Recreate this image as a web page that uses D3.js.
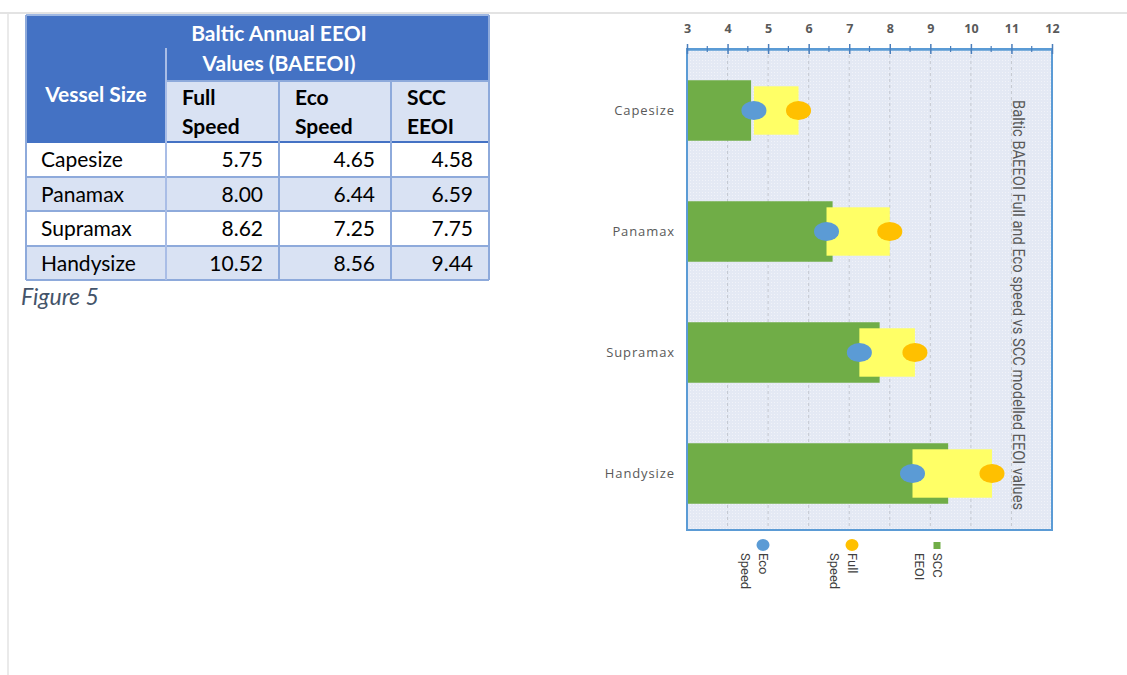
<!DOCTYPE html>
<html>
<head>
<meta charset="utf-8">
<style>
  body { margin: 0; background: #fff; }
  svg { display: block; }
</style>
</head>
<body>
<div id="viz_area"></div>

<script src="https://d3js.org/d3.v7.min.js"></script>

<script>
    var categories = ["Capesize", "Panamax", "Supramax", "Handysize"];
    var fullSpeed  = [5.75, 8.00, 8.62, 10.52];
    var ecoSpeed   = [4.65, 6.44, 7.25, 8.56];
    var sccEEOI    = [4.58, 6.59, 7.75, 9.44];
    var xTicks     = [3, 4, 5, 6, 7, 8, 9, 10, 11, 12];
    var legendItems = [["Eco", "Speed"], ["Full", "Speed"], ["SCC", "EEOI"]];

    var W = 1127, H = 675;
    var svg = d3.select("#viz_area").append("svg")
        .attr("width", W).attr("height", H);

    // page frame lines
    svg.append("line").attr("x1", 0).attr("x2", W).attr("y1", 13).attr("y2", 13)
        .attr("stroke", "#e3e3e3").attr("stroke-width", 2);
    svg.append("line").attr("x1", 8).attr("x2", 8).attr("y1", 13).attr("y2", H)
        .attr("stroke", "#e3e3e3").attr("stroke-width", 1.5);

    // ---------- table ----------
    var tfont = "Lato, 'Noto Sans', sans-serif";
    var colX = [26, 166, 279, 391, 489];      // column edges
    var rowY = [142, 177, 211, 246, 280];     // data row edges
    var blue = "#4472c4", lightBlue = "#d9e2f3", border = "#8eaadb";
    var table = svg.append("g");

    // header blocks
    table.append("rect").attr("x", colX[0]).attr("y", 15).attr("width", colX[4] - colX[0]).attr("height", 66)
        .attr("fill", blue);
    table.append("rect").attr("x", colX[0]).attr("y", 15).attr("width", colX[1] - colX[0]).attr("height", 127)
        .attr("fill", blue);
    for (var c = 1; c < 4; c++) {
        table.append("rect").attr("x", colX[c]).attr("y", 81).attr("width", colX[c + 1] - colX[c]).attr("height", 61)
            .attr("fill", lightBlue);
    }
    // data rows
    var rows = table.selectAll(".row").data(categories).join("g").attr("class", "row");
    rows.append("rect")
        .attr("x", colX[0]).attr("y", (d, i) => rowY[i])
        .attr("width", colX[4] - colX[0]).attr("height", (d, i) => rowY[i + 1] - rowY[i])
        .attr("fill", (d, i) => i % 2 ? lightBlue : "#fff");
    rows.append("text")
        .attr("x", colX[0] + 15).attr("y", (d, i) => (rowY[i] + rowY[i + 1]) / 2 + 7.5)
        .attr("font-family", tfont).attr("font-size", 21).attr("fill", "#000")
        .text(d => d);
    var valueCols = [fullSpeed, ecoSpeed, sccEEOI];
    valueCols.forEach(function (vals, c) {
        rows.append("text")
            .attr("x", colX[c + 2] - 16).attr("y", (d, i) => (rowY[i] + rowY[i + 1]) / 2 + 7.5)
            .attr("text-anchor", "end")
            .attr("font-family", tfont).attr("font-size", 21).attr("fill", "#000")
            .text((d, i) => vals[i].toFixed(2));
    });

    // grid lines of table
    var gl = table.append("g").attr("stroke", border).attr("stroke-width", 2);
    gl.append("line").attr("x1", colX[0]).attr("x2", colX[4]).attr("y1", 15).attr("y2", 15).attr("stroke", "#9fb8e3");
    gl.append("line").attr("x1", colX[1]).attr("x2", colX[4]).attr("y1", 81).attr("y2", 81);
    rowY.forEach(function (y, i) {
        gl.append("line").attr("x1", colX[0]).attr("x2", colX[4]).attr("y1", y).attr("y2", y)
            .attr("stroke", i === 0 ? blue : border);
    });
    colX.forEach(function (x, i) {
        gl.append("line").attr("x1", x).attr("x2", x)
            .attr("y1", i === 0 || i === 4 ? 15 : (i === 1 ? 48 : 81)).attr("y2", 280)
            .attr("stroke", i === 1 ? "#a9bde6" : border);
    });

    // header texts
    var hdr = table.append("g").attr("font-family", tfont).attr("font-weight", "bold").attr("font-size", 21);
    hdr.append("text").attr("x", 96).attr("y", 102).attr("text-anchor", "middle").attr("fill", "#fff").text("Vessel Size");
    hdr.append("text").attr("x", 279).attr("y", 41).attr("text-anchor", "middle").attr("fill", "#fff").text("Baltic Annual EEOI");
    hdr.append("text").attr("x", 279).attr("y", 71).attr("text-anchor", "middle").attr("fill", "#fff").text("Values (BAEEOI)");
    var subHdr = [["Full", "Speed"], ["Eco", "Speed"], ["SCC", "EEOI"]];
    subHdr.forEach(function (lines, c) {
        lines.forEach(function (t, j) {
            hdr.append("text").attr("x", colX[c + 1] + 16).attr("y", 105 + j * 29).attr("fill", "#000").text(t);
        });
    });

    svg.append("text").attr("x", 21).attr("y", 305)
        .attr("font-family", tfont).attr("font-style", "italic").attr("font-size", 23)
        .attr("fill", "#44546a").text("Figure 5");

    // ---------- chart ----------
    var plotTop = 49, plotBottom = 530;
    var x = d3.scaleLinear().domain([3, 12]).range([687, 1052]);
    var y = d3.scaleBand().domain(categories).range([50, 534]).paddingInner(0.5).paddingOuter(0.25);

    var cfont = "'Open Sans', 'DejaVu Sans', sans-serif";
    var chart = svg.append("g");

    // dotted plot background
    var defs = svg.append("defs");
    var pat = defs.append("pattern").attr("id", "dots").attr("width", 3).attr("height", 3)
        .attr("patternUnits", "userSpaceOnUse");
    pat.append("rect").attr("width", 3).attr("height", 3).attr("fill", "#e4e9f4");
    pat.append("rect").attr("width", 1).attr("height", 1).attr("fill", "#f1f3f9");

    chart.append("rect").attr("x", x(3)).attr("y", plotTop)
        .attr("width", x(12) - x(3)).attr("height", plotBottom - plotTop)
        .attr("fill", "url(#dots)");

    // vertical gridlines
    chart.selectAll(".grid").data(xTicks.slice(1, -1)).join("line")
        .attr("x1", d => x(d)).attr("x2", d => x(d))
        .attr("y1", plotTop).attr("y2", plotBottom)
        .attr("stroke", "#c4c8d0").attr("stroke-width", 1).attr("stroke-dasharray", "3,3");

    // SCC bars
    chart.selectAll(".scc").data(categories).join("rect")
        .attr("x", x(3)).attr("y", d => y(d))
        .attr("width", (d, i) => x(sccEEOI[i]) - x(3)).attr("height", y.bandwidth())
        .attr("fill", "#70ad47");

    // eco -> full range bars
    chart.selectAll(".range").data(categories).join("rect")
        .attr("x", (d, i) => x(ecoSpeed[i])).attr("y", d => y(d) + y.bandwidth() * 0.1)
        .attr("width", (d, i) => x(fullSpeed[i]) - x(ecoSpeed[i])).attr("height", y.bandwidth() * 0.8)
        .attr("fill", "#ffff66");

    // markers
    chart.selectAll(".eco").data(categories).join("ellipse")
        .attr("cx", (d, i) => x(ecoSpeed[i])).attr("cy", d => y(d) + y.bandwidth() / 2)
        .attr("rx", 12.5).attr("ry", 9.5).attr("fill", "#5b9bd5");
    chart.selectAll(".full").data(categories).join("ellipse")
        .attr("cx", (d, i) => x(fullSpeed[i])).attr("cy", d => y(d) + y.bandwidth() / 2)
        .attr("rx", 12.5).attr("ry", 9.5).attr("fill", "#ffc000");

    // category labels
    chart.selectAll(".cat").data(categories).join("text")
        .attr("x", 675).attr("y", d => y(d) + y.bandwidth() / 2 + 4.5)
        .attr("text-anchor", "end").attr("font-family", cfont).attr("font-size", 13)
        .attr("letter-spacing", 0.9).attr("fill", "#595959")
        .text(d => d);

    // plot border
    chart.append("rect").attr("x", x(3)).attr("y", plotTop)
        .attr("width", x(12) - x(3)).attr("height", plotBottom - plotTop)
        .attr("fill", "none").attr("stroke", "#5b9bd5").attr("stroke-width", 2);

    // top axis
    var axis = chart.append("g").attr("transform", "translate(0," + plotTop + ")")
        .call(d3.axisTop(x).tickValues(xTicks).tickSize(0).tickFormat(d3.format("d")));
    axis.select(".domain").attr("stroke", "#5b9bd5").attr("stroke-width", 2.5);
    axis.selectAll(".tick text").attr("y", -16)
        .attr("font-family", cfont).attr("font-size", 12.5).attr("font-weight", "bold").attr("fill", "#595959");
    axis.selectAll(".tick line").attr("y1", -5).attr("y2", 5)
        .attr("stroke", "#4a7ebb").attr("stroke-width", 1.5);
    axis.selectAll(".minor").data(xTicks.slice(0, -1)).join("line")
        .attr("x1", d => x(d + 0.5)).attr("x2", d => x(d + 0.5))
        .attr("y1", -3).attr("y2", 3).attr("stroke", "#4a7ebb").attr("stroke-width", 1.2);

    // rotated title on the right
    svg.append("text")
        .attr("transform", "translate(1013,305) rotate(90)")
        .attr("text-anchor", "middle")
        .attr("font-family", "'Liberation Sans Narrow', 'Roboto', sans-serif").attr("font-size", 16)
        .attr("textLength", 410).attr("lengthAdjust", "spacingAndGlyphs")
        .attr("fill", "#595959")
        .text("Baltic BAEEOI Full and Eco speed  vs SCC modelled EEOI values");

    // legend under the plot
    var legX = [763, 852, 937];
    var legend = svg.append("g");
    legendItems.forEach(function (lines, i) {
        if (i < 2) {
            legend.append("ellipse").attr("cx", legX[i]).attr("cy", 545).attr("rx", 6.5).attr("ry", 6)
                .attr("fill", i === 0 ? "#5b9bd5" : "#ffc000");
        } else {
            legend.append("rect").attr("x", legX[i] - 3.5).attr("y", 542).attr("width", 7).attr("height", 7)
                .attr("fill", "#70ad47");
        }
        var t = legend.append("text")
            .attr("transform", "translate(" + (legX[i] - 4) + ",553) rotate(90)")
            .attr("font-family", "'Roboto', sans-serif").attr("font-size", 13).attr("fill", "#404040");
        lines.forEach(function (s, j) {
            t.append("tspan").attr("x", 0).attr("dy", j === 0 ? 0 : 18).text(s);
        });
    });
</script>
</body>
</html>
